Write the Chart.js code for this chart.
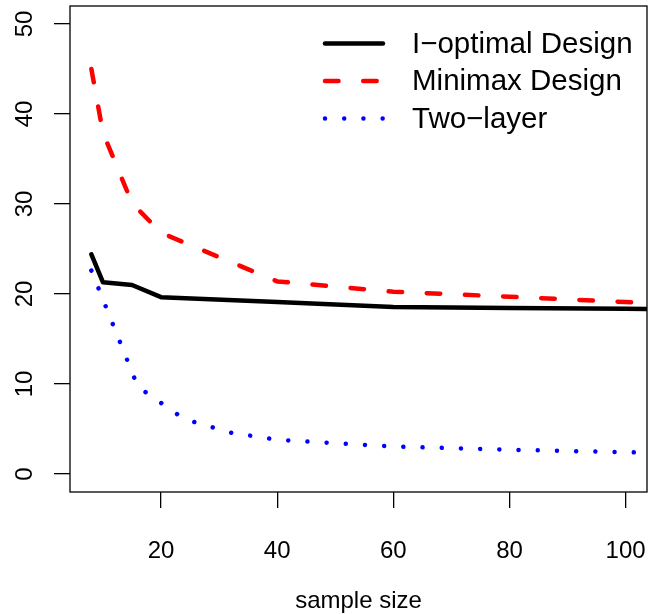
<!DOCTYPE html>
<html><head><meta charset="utf-8">
<script src="https://cdn.jsdelivr.net/npm/chart.js@4.4.1/dist/chart.umd.min.js"></script>
<style>html,body{margin:0;padding:0;background:#fff}</style>
</head><body>
<canvas id="c" width="651" height="614"></canvas>
<script>
const seriesNames = ["I\u2212optimal Design", "Minimax Design", "Two\u2212layer"];
const ioptX = [8, 10, 15, 20, 40, 60, 80, 100, 120];
const ioptY = [24.4, 21.3, 21.0, 19.65, 19.1, 18.55, 18.45, 18.35, 18.25];
const minimaxX = [8, 10, 15, 20, 40, 60, 80, 100, 120];
const minimaxY = [45, 37.9, 30.1, 26.8, 21.4, 20.25, 19.7, 19.1, 18.55];
const twoLayerX = [8, 16, 24, 32, 40, 60, 80, 100, 120];
const twoLayerY = [22.6, 9.7, 6.1, 4.6, 3.8, 3.05, 2.7, 2.42, 2.2];
const xTicks = [20, 40, 60, 80, 100];
const yTicks = [0, 10, 20, 30, 40, 50];
const xTitle = "sample size";

const FONT = "'Liberation Sans', Arial, Helvetica, sans-serif";
const pts = (xs, ys) => xs.map((x, i) => ({x: x, y: ys[i]}));
const noPad = s => { s.paddingTop = 0; s.paddingBottom = 0; s.paddingLeft = 0; s.paddingRight = 0; };

const boxPlugin = {
  id: 'box',
  beforeDatasetsDraw(chart) {
    const a = chart.chartArea, ctx = chart.ctx;
    ctx.save();
    ctx.strokeStyle = '#000';
    ctx.lineWidth = 1.3;
    ctx.strokeRect(a.left, a.top, a.right - a.left, a.bottom - a.top);
    ctx.restore();
  }
};

const legendPlugin = {
  id: 'rlegend',
  afterDraw(chart) {
    const ctx = chart.ctx;
    ctx.save();
    chart.data.datasets.forEach((ds, i) => {
      const y = 43.5 + i * 37.5;
      ctx.beginPath();
      ctx.strokeStyle = ds.borderColor;
      ctx.lineWidth = ds.borderWidth;
      ctx.lineCap = 'round';
      ctx.setLineDash(ds.borderDash || []);
      ctx.moveTo(325, y);
      ctx.lineTo(383, y);
      ctx.stroke();
      ctx.setLineDash([]);
      ctx.fillStyle = '#000';
      ctx.font = '29.5px ' + FONT;
      ctx.textAlign = 'left';
      ctx.textBaseline = 'middle';
      ctx.fillText(ds.label, 412, y + 1);
    });
    ctx.restore();
  }
};

const common = {borderWidth: 4.5, pointRadius: 0, tension: 0, borderCapStyle: 'round', borderJoinStyle: 'round', clip: 0, fill: false};

new Chart(document.getElementById('c'), {
  type: 'line',
  data: {
    datasets: [
      Object.assign({label: seriesNames[0], data: pts(ioptX, ioptY), borderColor: '#000000'}, common),
      Object.assign({label: seriesNames[1], data: pts(minimaxX, minimaxY), borderColor: '#FF0000', borderDash: [13.5, 24.7]}, common),
      Object.assign({label: seriesNames[2], data: pts(twoLayerX, twoLayerY), borderColor: '#0000FF', borderDash: [0.01, 19.2]}, common)
    ]
  },
  options: {
    responsive: false,
    animation: false,
    devicePixelRatio: 1,
    layout: {autoPadding: false, padding: {top: 6, right: 4, left: 0, bottom: 0}},
    plugins: {legend: {display: false}, tooltip: {enabled: false}},
    scales: {
      x: {
        type: 'linear', position: 'bottom',
        min: 4.32, max: 103.68,
        afterBuildTicks: s => { s.ticks = xTicks.map(v => ({value: v})); },
        afterFit: s => { s.height = 122; noPad(s); },
        border: {display: false},
        grid: {display: true, drawOnChartArea: false, drawTicks: true, tickLength: 16, color: '#000', lineWidth: 1.3},
        ticks: {color: '#000', font: {family: FONT, size: 24}, padding: 29, maxRotation: 0, minRotation: 0, autoSkip: false},
        title: {display: true, text: xTitle, color: '#000', font: {family: FONT, size: 24}, padding: {top: 0, bottom: -2}}
      },
      y: {
        type: 'linear', position: 'left',
        min: -2, max: 52,
        afterBuildTicks: s => { s.ticks = yTicks.map(v => ({value: v})); },
        afterFit: s => { s.width = 70; noPad(s); },
        border: {display: false},
        grid: {display: true, drawOnChartArea: false, drawTicks: true, tickLength: 16, color: '#000', lineWidth: 1.3},
        ticks: {color: '#000', font: {family: FONT, size: 24}, padding: 15.5, minRotation: 90, maxRotation: 90, crossAlign: 'center', autoSkip: false}
      }
    }
  },
  plugins: [boxPlugin, legendPlugin]
});
</script>
</body></html>
